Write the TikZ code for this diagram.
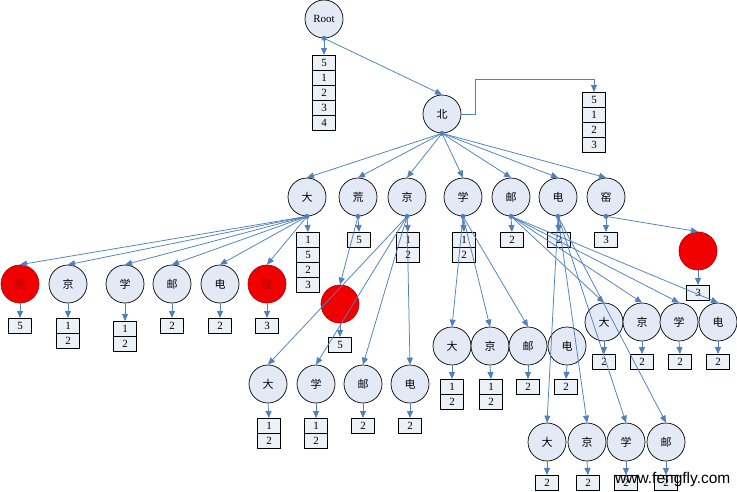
\documentclass[tikz,border=0pt]{standalone}
\usepackage{fontspec}
\setmainfont{Liberation Serif}
\newfontfamily\cjk{Noto Sans CJK SC}
\newfontfamily\wmfont{Liberation Sans}
\usetikzlibrary{arrows.meta}
\definecolor{nodefill}{RGB}{228,234,245}
\definecolor{cellfill}{RGB}{236,240,247}
\definecolor{linkblue}{RGB}{79,129,189}
\definecolor{hotred}{RGB}{240,0,0}
\definecolor{hotedge}{RGB}{180,0,0}
\definecolor{hottext}{RGB}{175,0,0}
\newcommand\postings[4]{\foreach \v [count=\i] in {#4}{\node[cell,anchor=north] (#1-\i) at (#2,{#3+(\i-1)*15}) {\v};}}
\begin{document}
\begin{tikzpicture}[x=1pt,y=-1pt,
 trienode/.style={circle,draw=black,line width=0.7pt,fill=nodefill,minimum size=38pt,inner sep=0pt,font=\cjk\fontsize{11}{11}\selectfont},
 endnode/.style={trienode,fill=hotred,draw=hotedge,text=hottext},
 cell/.style={rectangle,draw=black,line width=0.7pt,fill=cellfill,minimum width=23pt,minimum height=15pt,inner sep=0pt,font=\fontsize{11}{11}\selectfont},
 link/.style={draw=linkblue,line width=0.75pt,-{Triangle[width=6pt,length=7pt]}},
 knot/.style={circle,fill=linkblue,inner sep=0pt,minimum size=5pt}
]
\fill[white] (0,0) rectangle (737,491);
\useasboundingbox (0,0) rectangle (737,491);

% ---- nodes ----
\node[trienode,font=\fontsize{11}{11}\selectfont] (root) at (324,19) {Root};
\postings{pRoot}{324}{55}{5,1,2,3,4}
\node[trienode] (bei) at (442,114) {北};
\postings{pBei}{594}{92}{5,1,2,3}

\node[trienode] (da) at (307,197) {大};
\node[trienode] (huang) at (358,197) {荒};
\node[trienode] (jing) at (407,197) {京};
\node[trienode] (xue) at (463,197) {学};
\node[trienode] (you) at (511,197) {邮};
\node[trienode] (dian) at (558,197) {电};
\node[trienode] (yao) at (606,197) {窑};
\postings{pDa}{308}{232}{1,5,2,3}
\postings{pHuang}{359}{232}{5}
\postings{pJing}{408}{232}{1,2}
\postings{pXue}{464}{232}{1,2}
\postings{pYou}{512}{232}{2}
\postings{pDian}{559}{232}{2}
\postings{pYao}{606}{232}{3}

% children of 大
\node[endnode] (a1) at (20,284) {荒};
\node[trienode] (a2) at (68,284) {京};
\node[trienode] (a3) at (125,284) {学};
\node[trienode] (a4) at (172,284) {邮};
\node[trienode] (a5) at (220,284) {电};
\node[endnode] (a6) at (267,284) {窑};
\postings{pa1}{20}{318}{5}
\postings{pa2}{68}{318}{1,2}
\postings{pa3}{125}{321}{1,2}
\postings{pa4}{172}{318}{2}
\postings{pa5}{220}{318}{2}
\postings{pa6}{267}{318}{3}

% child of 荒
\node[endnode] (h1) at (340,304) {};
\postings{ph1}{340}{337}{5}

% children of 京
\node[trienode] (j1) at (268,384) {大};
\node[trienode] (j2) at (316,384) {学};
\node[trienode] (j3) at (363,384) {邮};
\node[trienode] (j4) at (410,384) {电};
\postings{pj1}{269}{418}{1,2}
\postings{pj2}{316}{418}{1,2}
\postings{pj3}{363}{418}{2}
\postings{pj4}{410}{418}{2}

% children of 学
\node[trienode] (x1) at (452,346) {大};
\node[trienode] (x2) at (490,346) {京};
\node[trienode] (x3) at (528,346) {邮};
\node[trienode] (x4) at (567,346) {电};
\postings{px1}{452}{379}{1,2}
\postings{px2}{491}{379}{1,2}
\postings{px3}{528}{379}{2}
\postings{px4}{566}{379}{2}

% children of 邮
\node[trienode] (y1) at (604,322) {大};
\node[trienode] (y2) at (642,322) {京};
\node[trienode] (y3) at (679,322) {学};
\node[trienode] (y4) at (718,322) {电};
\postings{py1}{604}{354}{2}
\postings{py2}{642}{354}{2}
\postings{py3}{680}{354}{2}
\postings{py4}{718}{354}{2}

% children of 电
\node[trienode] (d1) at (547,442) {大};
\node[trienode] (d2) at (587,442) {京};
\node[trienode] (d3) at (626,442) {学};
\node[trienode] (d4) at (666,442) {邮};
\postings{pd1}{547}{475}{2}
\postings{pd2}{588}{475}{2}
\postings{pd3}{626}{475}{2}
\postings{pd4}{666}{475}{2}

% child of 窑
\node[endnode] (z1) at (698,251) {};
\postings{pz1}{698}{285}{3}

% ---- connectors ----
\draw[link] (root.south) -- (bei.north);
\draw[link] (root.south) -- (pRoot-1.north);
\coordinate (elbow) at (475,79);
\draw[link] (bei.east) -| (elbow) -| (pBei-1.north);
\foreach \c in {da,huang,jing,xue,you,dian,yao}
  \draw[link] (bei.south) -- (\c.north);

\foreach \p/\a in {da/pDa,huang/pHuang,jing/pJing,xue/pXue,you/pYou,dian/pDian,yao/pYao}
  \draw[link] (\p.south) -- (\a-1.north);

\foreach \c in {a1,a2,a3,a4,a5,a6} \draw[link] (da.south) -- (\c.north);
\draw[link] (huang.south) -- (h1.north);
\foreach \c in {j1,j2,j3,j4} \draw[link] (jing.south) -- (\c.north);
\foreach \c in {x1,x2,x3} \draw[link] (xue.south) -- (\c.north);
\foreach \c in {y1,y2,y3,y4} \draw[link] (you.south) -- (\c.north);
\foreach \c in {d1,d2,d3,d4} \draw[link] (dian.south) -- (\c.north);
\draw[link] (yao.south) -- (z1.north);

\foreach \c in {a1,a2,a3,a4,a5,a6,h1,j1,j2,j3,j4,x1,x2,x3,x4,y1,y2,y3,y4,d1,d2,d3,d4,z1}
  \draw[link] (\c.south) -- (p\c-1.north);

% knots
\foreach \p in {root,bei,da,huang,jing,xue,you,dian,yao}
  \node[knot] (k\p) at (\p.south) {};

% watermark
\node[anchor=base west,font=\wmfont\fontsize{15.5}{15.5}\selectfont,inner sep=0pt] (wm) at (615,483) {www.fengfly.com};
\end{tikzpicture}
\end{document}
